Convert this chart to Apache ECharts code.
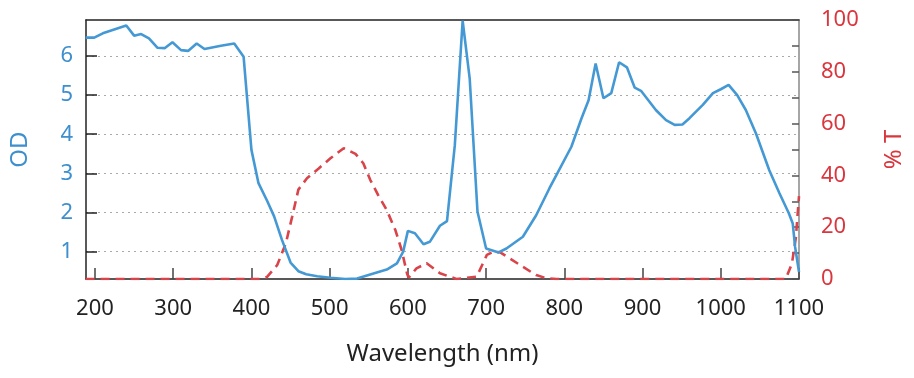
<!DOCTYPE html>
<html>
<head>
<meta charset="utf-8">
<script src="https://cdn.jsdelivr.net/npm/echarts@6/dist/echarts.min.js"></script>
<style>html,body{margin:0;padding:0;background:#fff}#c{width:914px;height:378px}</style>
</head>
<body>
<div id="c"></div>
<script>
// Optical density (blue, left axis)
const odWavelength = [188,199,210,240,250,259,269,280,289,299,310,319,330,340,361,378,390,400,409,420,429,439,450,460,470,484,501,520,535,556,573,586,594,600,609,620,628,641,650,660,670,679,689,700,716,726,747,764,781,790,809,822,831,840,850,860,870,880,890,898,917,930,941,951,960,977,990,1000,1010,1021,1032,1045,1062,1075,1087,1092,1095,1100];
const odValues     = [6.47,6.47,6.58,6.78,6.52,6.56,6.45,6.21,6.20,6.35,6.15,6.13,6.32,6.18,6.26,6.32,5.98,3.6,2.75,2.3,1.9,1.3,0.72,0.5,0.42,0.37,0.33,0.3,0.31,0.44,0.54,0.7,1.0,1.53,1.47,1.19,1.25,1.66,1.78,3.72,6.9,5.43,2.02,1.08,0.98,1.08,1.38,1.93,2.62,2.96,3.68,4.41,4.87,5.81,4.92,5.05,5.84,5.71,5.19,5.11,4.62,4.36,4.24,4.25,4.41,4.75,5.05,5.15,5.26,5.0,4.62,4.02,3.08,2.49,1.98,1.72,1.12,0.48];
// Transmission (red dashed, right axis)
const tWavelength = [188,410,420,433,444,452,460,471,486,501,518,533,543,552,562,573,584,592,599,601,611,624,641,662,688,701,709,718,730,747,764,777,790,1083,1091,1096,1100];
const tValues     = [0,0,0.8,5.4,13.8,24,34.5,38.9,42.7,46.6,50.5,48.3,44.7,38.2,32.4,26.6,18.9,11.2,2,0.5,4.1,6.1,2.2,0,0.9,9.3,10.5,10.3,8,4.7,1.5,0.3,0,0,6,16,32];
const xTicks = [200,300,400,500,600,700,800,900,1000,1100];
const odTicks = [1,2,3,4,5,6];

const FONT = 'Noto Sans';
const blue = '#4499d4', red = '#d9434a';
const blueText = '#3d8fce', redText = '#d9363e';

const chart = echarts.init(document.getElementById('c'), null, {renderer: 'canvas'});
chart.setOption({
  animation: false,
  grid: {left: 85, right: 114, top: 20, bottom: 99},
  xAxis: [{
    type: 'value', min: 188.5, max: 1100,
    name: 'Wavelength (nm)', nameLocation: 'middle', nameGap: 63,
    nameTextStyle: {fontFamily: FONT, fontSize: 24, color: '#222'},
    axisLine: {show: true, lineStyle: {color: '#222', width: 1.5}},
    axisTick: {show: true, inside: true, length: 11, customValues: xTicks, lineStyle: {color: '#444', width: 1.5}},
    axisLabel: {customValues: xTicks, margin: 19, fontFamily: FONT, fontSize: 22, color: '#222', formatter: v => String(v)},
    splitLine: {show: false}
  }, {
    type: 'value', min: 188.5, max: 1100, position: 'top',
    axisLine: {show: true, onZero: false, lineStyle: {color: '#222', width: 1.5}},
    axisTick: {show: false}, axisLabel: {show: false}, splitLine: {show: false}
  }],
  yAxis: [{
    type: 'value', min: 0.3, max: 6.92, position: 'left',
    name: 'OD', nameLocation: 'middle', nameGap: 54, nameRotate: 90,
    nameTextStyle: {fontFamily: FONT, fontSize: 24, color: blueText},
    axisLine: {show: true, onZero: false, lineStyle: {color: '#222', width: 1.5}},
    axisTick: {show: true, inside: true, length: 11, customValues: odTicks, lineStyle: {color: '#222', width: 1.5}},
    axisLabel: {customValues: odTicks, margin: 13, fontFamily: FONT, fontSize: 22, color: blueText},
    splitLine: {show: true, lineStyle: {color: '#aaa', type: [2, 4], width: 1}}
  }, {
    type: 'value', min: 0, max: 100, interval: 10, position: 'right',
    name: '% T', nameLocation: 'middle', nameGap: 83, nameRotate: 90,
    nameTextStyle: {fontFamily: FONT, fontSize: 24, color: redText},
    axisLine: {show: true, onZero: false, lineStyle: {color: '#888', width: 1.5}},
    axisTick: {show: true, inside: true, length: 7, lineStyle: {color: '#555', width: 1.5}},
    axisLabel: {margin: 22, fontFamily: FONT, fontSize: 22, color: redText,
      formatter: v => (Math.round(v) % 20 === 0 ? String(Math.round(v)) : '')},
    splitLine: {show: false}
  }],
  series: [{
    type: 'line', yAxisIndex: 1, showSymbol: false, symbol: 'none',
    data: tWavelength.map((w, i) => [w, tValues[i]]),
    lineStyle: {color: red, width: 2.6, type: [9, 6]}
  }, {
    type: 'line', yAxisIndex: 0, showSymbol: false, symbol: 'none',
    data: odWavelength.map((w, i) => [w, odValues[i]]),
    lineStyle: {color: blue, width: 2.6}
  }]
});
</script>
</body>
</html>
